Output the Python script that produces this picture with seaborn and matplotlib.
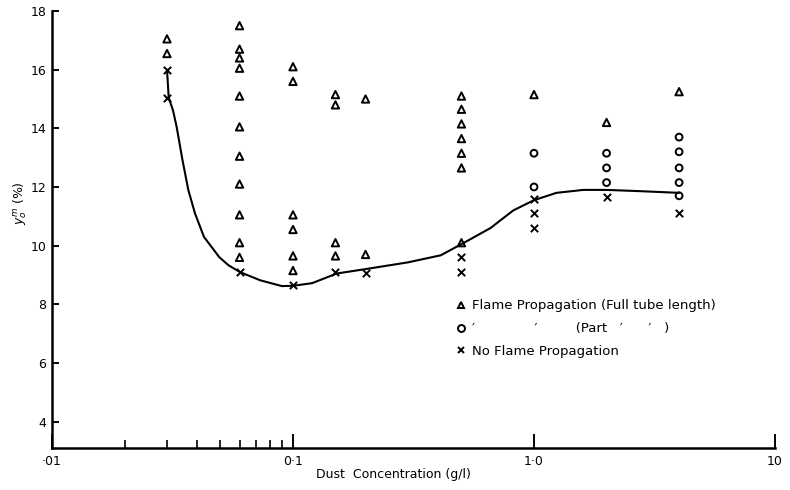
import matplotlib
matplotlib.use("Agg")
import matplotlib.pyplot as plt
from matplotlib.lines import Line2D
import seaborn as sns
import pandas as pd

# ---- data ----
full_x = [0.03, 0.03,
          0.06, 0.06, 0.06, 0.06, 0.06, 0.06, 0.06, 0.06, 0.06, 0.06, 0.06,
          0.1, 0.1, 0.1, 0.1, 0.1, 0.1,
          0.15, 0.15, 0.15, 0.15,
          0.2, 0.2,
          0.5, 0.5, 0.5, 0.5, 0.5, 0.5, 0.5,
          1.0, 2.0, 4.0]
full_y = [17.05, 16.55,
          17.5, 16.7, 16.4, 16.05, 15.1, 14.05, 13.05, 12.1, 11.05, 10.1, 9.6,
          16.1, 15.6, 11.05, 10.55, 9.65, 9.15,
          15.15, 14.8, 10.1, 9.65,
          15.0, 9.7,
          15.1, 14.65, 14.15, 13.65, 13.15, 12.65, 10.1,
          15.15, 14.2, 15.25]

part_x = [1.0, 1.0, 2.0, 2.0, 2.0, 4.0, 4.0, 4.0, 4.0, 4.0]
part_y = [13.15, 12.0, 13.15, 12.65, 12.15, 13.7, 13.2, 12.65, 12.15, 11.7]

none_x = [0.03, 0.03, 0.06, 0.1, 0.15, 0.2, 0.5, 0.5, 1.0, 1.0, 1.0, 2.0, 4.0]
none_y = [16.0, 15.05, 9.1, 8.65, 9.1, 9.05, 9.6, 9.1, 11.6, 11.1, 10.6, 11.65, 11.1]

curve_x = [0.030, 0.0305, 0.0318, 0.0329, 0.0348, 0.0368, 0.0392, 0.0427, 0.0494,
           0.054, 0.0602, 0.073, 0.09, 0.1, 0.12, 0.152, 0.2, 0.3, 0.41, 0.5,
           0.66, 0.82, 1.0, 1.24, 1.6, 2.0, 2.7, 4.0]
curve_y = [16.0, 15.05, 14.6, 14.05, 12.91, 11.89, 11.1, 10.3, 9.61,
           9.33, 9.1, 8.82, 8.62, 8.63, 8.72, 9.05, 9.2, 9.43, 9.67, 10.05,
           10.6, 11.2, 11.55, 11.8, 11.9, 11.9, 11.86, 11.8]

x_major = [0.01, 0.1, 1.0, 10.0]
x_major_labels = ["\u00b701", "0\u00b71", "1\u00b70", "10"]
x_minor = [0.02, 0.03, 0.04, 0.05, 0.06, 0.07, 0.08, 0.09]
y_ticks = [4, 6, 8, 10, 12, 14, 16, 18]

legend_labels = ["Flame Propagation (Full tube length)",
                 "\u2032              \u2032         (Part   \u2032      \u2032   )",
                 "No Flame Propagation"]

# ---- plot ----
sns.set_style("white")
plt.rcParams["font.family"] = ["DejaVu Sans"]
plt.rcParams["text.color"] = "black"
plt.rcParams["axes.labelcolor"] = "black"
plt.rcParams["xtick.color"] = "black"
plt.rcParams["ytick.color"] = "black"

fig = plt.figure(figsize=(7.9, 4.9), dpi=100)
ax = fig.add_axes([52 / 790, 42 / 490, (775 - 52) / 790, (448 - 11) / 490])

sns.lineplot(x=curve_x, y=curve_y, color="black", linewidth=1.5,
             sort=False, estimator=None, ax=ax)

sns.scatterplot(x=full_x, y=full_y, marker="^", s=28, facecolors="none",
                edgecolor="black", linewidth=1.4, ax=ax, zorder=3)
sns.scatterplot(x=part_x, y=part_y, marker="o", s=24, facecolors="none",
                edgecolor="black", linewidth=1.4, ax=ax, zorder=3)
sns.scatterplot(x=none_x, y=none_y, marker="x", s=28, color="black",
                linewidth=1.4, ax=ax, zorder=3)

ax.set_xscale("log")
ax.set_xlim(0.01, 10)
ax.set_ylim(3.1, 18)

ax.set_xticks(x_major)
ax.set_xticklabels(x_major_labels, fontsize=9)
ax.set_xticks(x_minor, minor=True)
ax.set_xticklabels([], minor=True)
ax.set_yticks(y_ticks)
ax.set_yticklabels([str(v) for v in y_ticks], fontsize=9)

ax.tick_params(axis="x", which="major", direction="in", length=10, width=1.4,
               color="black", labelcolor="black", pad=5, bottom=True)
ax.tick_params(axis="x", which="minor", direction="in", length=6, width=1.2,
               color="black", bottom=True)
ax.tick_params(axis="y", which="major", direction="in", length=5, width=1.4,
               color="black", labelcolor="black", pad=4, left=True)

for side in ["top", "right"]:
    ax.spines[side].set_visible(False)
for side in ["left", "bottom"]:
    ax.spines[side].set_color("black")
    ax.spines[side].set_linewidth(1.8)

ax.set_xlabel("Dust  Concentration (g/l)", fontsize=9, color="black")
ax.set_ylabel(r"$y_o^m$ (%)", fontsize=9, color="black")
ax.xaxis.set_label_coords(0.472, -0.046)
ax.yaxis.set_label_coords(-0.032, 0.56)

handles = [
    Line2D([], [], linestyle="none", marker="^", markersize=5,
           markerfacecolor="none", markeredgecolor="black", markeredgewidth=1.4),
    Line2D([], [], linestyle="none", marker="o", markersize=5,
           markerfacecolor="none", markeredgecolor="black", markeredgewidth=1.4),
    Line2D([], [], linestyle="none", marker="x", markersize=5,
           color="black", markeredgewidth=1.4),
]
leg = ax.legend(handles, legend_labels, loc="upper left",
                bbox_to_anchor=((452 - 52) / 723, (448 - 294) / 437),
                frameon=False, fontsize=9.5, handlelength=0.6, handletextpad=0.5,
                labelspacing=0.75, borderaxespad=0)
for t in leg.get_texts():
    t.set_color("black")

fig.savefig("out.png", dpi=100)
